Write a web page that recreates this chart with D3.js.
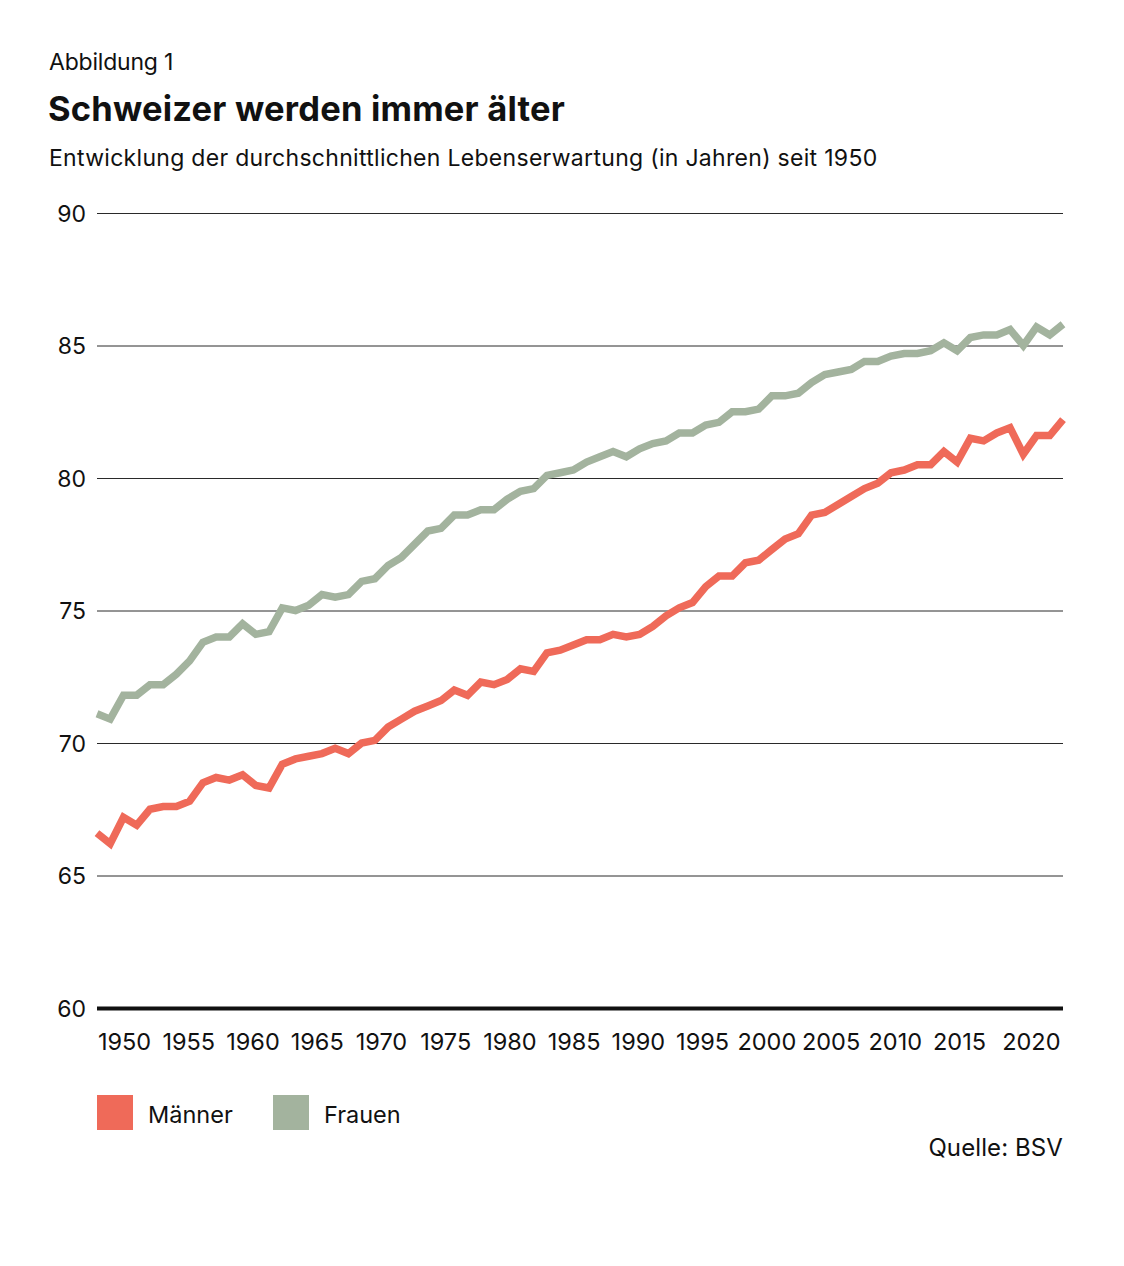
<!DOCTYPE html>
<html lang="de">
<head>
<meta charset="utf-8">
<title>Schweizer werden immer älter</title>
<script src="https://cdn.jsdelivr.net/npm/d3@7.9.0/dist/d3.min.js"></script>
<style>
  body { margin: 0; background: #fff; }
  svg { display: block; font-family: Inter, 'Noto Sans', sans-serif; }
</style>
</head>
<body>
<div id="chart"></div>
<script>
// Lebenserwartung bei Geburt, 1950–2023
const years = d3.range(1950, 2024);

const maenner = [
  66.6, 66.2, 67.2, 66.9, 67.5, 67.6, 67.6, 67.8, 68.5, 68.7,
  68.6, 68.8, 68.4, 68.3, 69.2, 69.4, 69.5, 69.6, 69.8, 69.6,
  70.0, 70.1, 70.6, 70.9, 71.2, 71.4, 71.6, 72.0, 71.8, 72.3,
  72.2, 72.4, 72.8, 72.7, 73.4, 73.5, 73.7, 73.9, 73.9, 74.1,
  74.0, 74.1, 74.4, 74.8, 75.1, 75.3, 75.9, 76.3, 76.3, 76.8,
  76.9, 77.3, 77.7, 77.9, 78.6, 78.7, 79.0, 79.3, 79.6, 79.8,
  80.2, 80.3, 80.5, 80.5, 81.0, 80.6, 81.5, 81.4, 81.7, 81.9,
  80.9, 81.6, 81.6, 82.2
];

const frauen = [
  71.1, 70.9, 71.8, 71.8, 72.2, 72.2, 72.6, 73.1, 73.8, 74.0,
  74.0, 74.5, 74.1, 74.2, 75.1, 75.0, 75.2, 75.6, 75.5, 75.6,
  76.1, 76.2, 76.7, 77.0, 77.5, 78.0, 78.1, 78.6, 78.6, 78.8,
  78.8, 79.2, 79.5, 79.6, 80.1, 80.2, 80.3, 80.6, 80.8, 81.0,
  80.8, 81.1, 81.3, 81.4, 81.7, 81.7, 82.0, 82.1, 82.5, 82.5,
  82.6, 83.1, 83.1, 83.2, 83.6, 83.9, 84.0, 84.1, 84.4, 84.4,
  84.6, 84.7, 84.7, 84.8, 85.1, 84.8, 85.3, 85.4, 85.4, 85.6,
  85.0, 85.7, 85.4, 85.8
];

const series = [
  { name: 'Männer', values: maenner, color: '#ef6a59' },
  { name: 'Frauen', values: frauen, color: '#a3b39e' }
];

const yTicks = [60, 65, 70, 75, 80, 85, 90];
const xTickLabels = [1950, 1955, 1960, 1965, 1970, 1975, 1980, 1985, 1990, 1995, 2000, 2005, 2010, 2015, 2020];

const width = 1124;
const height = 1266;
const margin = { top: 213, right: 61, bottom: 258, left: 97 };

const svg = d3.select('#chart')
  .append('svg')
  .attr('width', width)
  .attr('height', height);

// ---- titles ----
svg.append('text')
  .attr('x', 49).attr('y', 70)
  .attr('font-size', 23)
  .attr('fill', '#111')
  .attr('letter-spacing', -0.2)
  .text('Abbildung 1');

svg.append('text')
  .attr('x', 48).attr('y', 121)
  .attr('font-size', 34.5)
  .attr('font-weight', 700)
  .attr('fill', '#111')
  .attr('letter-spacing', 0.2)
  .text('Schweizer werden immer älter');

svg.append('text')
  .attr('x', 49).attr('y', 166)
  .attr('font-size', 23)
  .attr('fill', '#111')
  .attr('letter-spacing', 0.3)
  .text('Entwicklung der durchschnittlichen Lebenserwartung (in Jahren) seit 1950');

// ---- scales ----
const x = d3.scaleLinear()
  .domain(d3.extent(years))
  .range([margin.left, width - margin.right]);

const y = d3.scaleLinear()
  .domain([60, 90])
  .range([height - margin.bottom, margin.top]);

// x labels in the original sit on their own even spacing
const xLabel = d3.scaleLinear()
  .domain([1950, 2015])
  .range([124, 959]);

// ---- gridlines + y labels ----
const yAxis = svg.append('g')
  .attr('transform', `translate(${margin.left},0)`)
  .call(d3.axisLeft(y)
    .tickValues(yTicks)
    .tickSize(-(width - margin.left - margin.right))
    .tickPadding(11));

yAxis.select('.domain').remove();
yAxis.selectAll('.tick line')
  .attr('stroke', '#2a2a2a')
  .attr('stroke-width', 1);
yAxis.selectAll('.tick text')
  .attr('font-size', 23)
  .attr('font-family', 'Inter, sans-serif')
  .attr('fill', '#111')
  .attr('dy', '0.36em');

// thick baseline at 60
yAxis.selectAll('.tick')
  .filter(d => d === 60)
  .select('line')
  .attr('stroke', '#111')
  .attr('stroke-width', 4);

// ---- x labels ----
const xAxis = svg.append('g')
  .attr('transform', `translate(0,${height - margin.bottom})`)
  .call(d3.axisBottom(xLabel)
    .tickValues(xTickLabels)
    .tickFormat(d3.format('d'))
    .tickSize(0)
    .tickPadding(25));

xAxis.select('.domain').remove();
xAxis.selectAll('.tick text')
  .attr('font-size', 23.5)
  .attr('font-family', 'Inter, sans-serif')
  .attr('fill', '#111');

// last label is pushed flush against the right edge of the plot
xAxis.selectAll('.tick')
  .filter(d => d === 2020)
  .select('text')
  .attr('text-anchor', 'end')
  .attr('x', x.range()[1] - xLabel(2020) - 3);

// ---- lines ----
const line = d3.line()
  .x((d, i) => x(years[i]))
  .y(d => y(d));

svg.append('g')
  .selectAll('path')
  .data(series)
  .join('path')
  .attr('d', d => line(d.values))
  .attr('fill', 'none')
  .attr('stroke', d => d.color)
  .attr('stroke-width', 7.5)
  .attr('stroke-linejoin', 'miter');

// ---- legend ----
const legendX = d3.scaleOrdinal()
  .domain(series.map(d => d.name))
  .range([97, 273]);

const legend = svg.append('g')
  .selectAll('g')
  .data(series)
  .join('g')
  .attr('transform', d => `translate(${legendX(d.name)},1095)`);

legend.append('rect')
  .attr('width', 36)
  .attr('height', 35)
  .attr('fill', d => d.color);

legend.append('text')
  .attr('x', 51)
  .attr('y', 28)
  .attr('font-size', 23.5)
  .attr('fill', '#111')
  .text(d => d.name);

// ---- source ----
svg.append('text')
  .attr('x', width - margin.right)
  .attr('y', 1156)
  .attr('text-anchor', 'end')
  .attr('font-size', 24)
  .attr('fill', '#111')
  .attr('letter-spacing', 0.1)
  .text('Quelle: BSV');
</script>
</body>
</html>
